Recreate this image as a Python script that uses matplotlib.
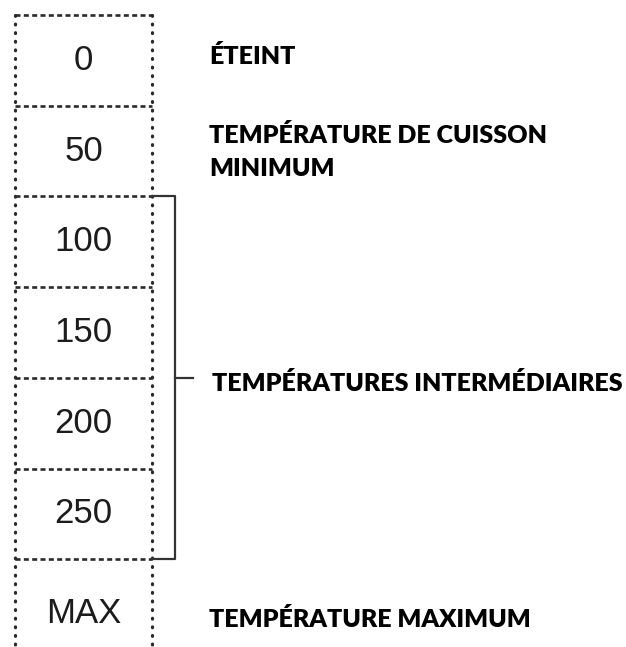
import matplotlib.pyplot as plt

plt.rcParams['lines.scale_dashes'] = False

# settings on the dial, top to bottom
settings = ['0', '50', '100', '150', '200', '250', 'MAX']
# descriptions: (row, text)
descriptions = [(0, 'ÉTEINT'),
                (1, 'TEMPÉRATURE DE CUISSON\nMINIMUM'),
                (6, 'TEMPÉRATURE MAXIMUM')]
bracket_rows = (2, 6)
bracket_label = 'TEMPÉRATURES INTERMÉDIAIRES'

# layout (pixels across, rows down)
row_h = 90.7
top = 15
box_left, box_right = 15, 152
brk_x, tick_x = 175, 193
text_x = 209
desc_offset = {0: 0.46, 1: 0.51, 6: 0.67}

fig = plt.figure(figsize=(6.26, 6.47), dpi=100)
ax = fig.add_axes([0, 0, 1, 1])
ax.set_xlim(0, 626)
ax.set_ylim((647 - top) / row_h, -top / row_h)
ax.axis('off')

n = len(settings)
line_col = '#2a2a2a'

# dotted sides of the column
for x in (box_left, box_right):
    ax.plot([x, x], [0, ax.get_ylim()[0]], color=line_col, lw=2.3,
            dashes=(0.6, 5.6), dash_capstyle='round')

# dashed separators between rows
for i in range(n):
    ax.plot([box_left, box_right], [i, i], color=line_col, lw=1.9, dashes=(3.6, 2.4))

# values in the column
for i, s in enumerate(settings):
    y = i + 0.5 if s != 'MAX' else i + 0.6
    ax.text((box_left + box_right) / 2, y, s, ha='center', va='center',
            fontsize=25, color='#1c1c1c', family='Liberation Sans')

# descriptions to the right
for row, txt in descriptions:
    ax.text(text_x, row + desc_offset[row], txt, ha='left', va='center', fontsize=18,
            fontweight='heavy', family='Lato', linespacing=1.65)

# bracket for the middle rows
r0, r1 = bracket_rows
ax.plot([box_right, brk_x, brk_x, box_right], [r0, r0, r1, r1], color='#333333', lw=1.6)
mid = (r0 + r1) / 2
ax.plot([brk_x, tick_x], [mid, mid], color='#333333', lw=1.6)
ax.text(text_x + 3, mid + 0.06, bracket_label, ha='left', va='center', fontsize=18,
        fontweight='heavy', family='Lato')

fig.savefig('out.png', dpi=100)
